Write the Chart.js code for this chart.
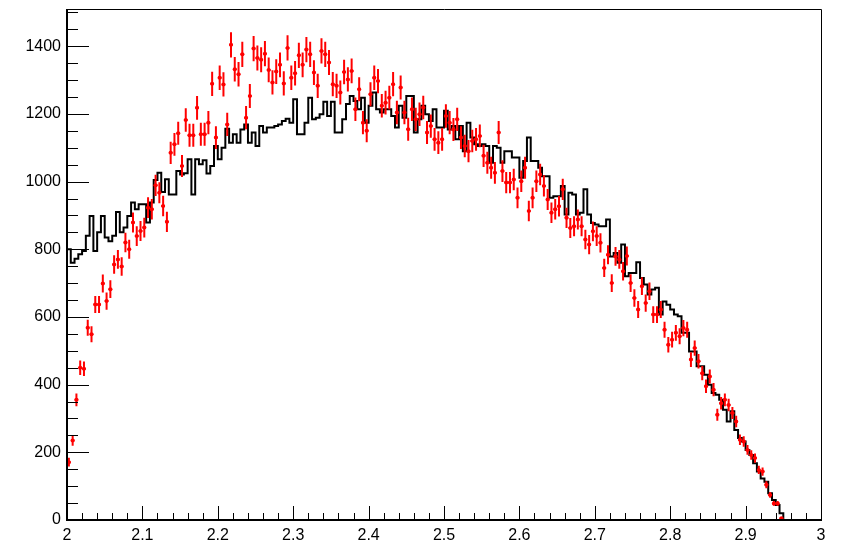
<!DOCTYPE html>
<html>
<head>
<meta charset="utf-8">
<script src="https://cdn.jsdelivr.net/npm/chart.js@4.4.1/dist/chart.umd.min.js"></script>
<style>
  html, body { margin: 0; padding: 0; background: #fff; }
  #wrap { width: 846px; height: 545px; }
</style>
</head>
<body>
<div id="wrap"><canvas id="chart"></canvas></div>
<script>
// histogram binning: 200 bins from 2 to 3
const xMin = 2;
const xMax = 3;
const binWidth = 0.005;
const yMax = 1510;

const xTicks = [2, 2.1, 2.2, 2.3, 2.4, 2.5, 2.6, 2.7, 2.8, 2.9, 3];
const xTickLabels = ["2", "2.1", "2.2", "2.3", "2.4", "2.5", "2.6", "2.7", "2.8", "2.9", "3"];
const yTicks = [0, 200, 400, 600, 800, 1000, 1200, 1400];
const yTickLabels = ["0", "200", "400", "600", "800", "1000", "1200", "1400"];
const xMinorStep = 0.02;
const yMinorStep = 50;

// red points (data, Poisson errors)
const dataCounts = [
  171, 235, 355, 450, 447, 568, 549, 637, 637, 699,
  647, 682, 755, 770, 749, 820, 800, 879, 839, 854,
  864, 923, 918, 989, 967, 928, 881, 1085, 1110, 1143,
  1046, 1182, 1137, 1137, 1218, 1140, 1140, 1174, 1289, 1130,
  1307, 1287, 1169, 1404, 1332, 1317, 1376, 1189, 1253, 1393,
  1365, 1360, 1378, 1330, 1293, 1325, 1345, 1290, 1395, 1307,
  1320, 1373, 1345, 1390, 1376, 1322, 1283, 1386, 1376, 1352,
  1288, 1283, 1263, 1324, 1302, 1327, 1214, 1273, 1174, 1150,
  1258, 1307, 1297, 1224, 1233, 1248, 1288, 1204, 1278, 1204,
  1155, 1214, 1184, 1199, 1219, 1145, 1164, 1125, 1115, 1125,
  1194, 1174, 1154, 1184, 1130, 1105, 1090, 1120, 1125, 1135,
  1076, 1056, 1041, 1026, 1145, 1031, 997, 997, 1006, 952,
  1001, 1041, 913, 952, 1001, 1021, 987, 947, 908, 918,
  927, 977, 893, 863, 868, 888, 868, 829, 814, 853,
  839, 819, 745, 784, 700, 779, 770, 735, 780, 700,
  656, 622, 691, 641, 676, 607, 607, 622, 562, 518,
  533, 553, 543, 567, 562, 474, 508, 469, 434, 395,
  424, 385, 311, 345, 355, 340, 316, 291, 237, 232,
  207, 192, 183, 148, 143, 104, 74, 49, 49, 5,
  null, null, null, null, null, null, null, null, null, null
];

// black histogram
const mcCounts = [
  800, 760, 772, 785, 795, 840, 898, 795, 850, 898,
  835, 824, 840, 910, 850, 864, 898, 938, 918, 933,
  933, 879, 938, 1005, 1026, 969, 1007, 962, 962, 1031,
  1021, 1025, 1066, 962, 1066, 1051, 1063, 1024, 1046, 1105,
  1066, 1100, 1156, 1115, 1140, 1115, 1154, 1169, 1115, 1145,
  1105, 1164, 1145, 1160, 1160, 1164, 1169, 1179, 1186, 1174,
  1243, 1140, 1140, 1174, 1248, 1184, 1189, 1199, 1236, 1194,
  1236, 1145, 1145, 1184, 1229, 1253, 1238, 1214, 1248, 1174,
  1224, 1263, 1214, 1204, 1214, 1214, 1194, 1160, 1224, 1189,
  1253, 1253, 1145, 1184, 1224, 1199, 1179, 1214, 1160, 1160,
  1209, 1154, 1164, 1125, 1164, 1090, 1174, 1130, 1110, 1105,
  1110, 1105, 1056, 1105, 1100, 1056, 1090, 1090, 1071, 1071,
  1011, 1061, 1130, 1061, 1061, 1041, 1016, 1016, 952, 957,
  957, 987, 903, 967, 962, 903, 908, 977, 903, 878,
  873, 868, 868, 888, 779, 789, 760, 814, 720, 730,
  730, 762, 715, 696, 666, 681, 686, 607, 646, 636,
  622, 607, 602, 553, 553, 498, 498, 454, 454, 429,
  400, 375, 370, 355, 326, 291, 321, 266, 242, 232,
  207, 192, 168, 143, 123, 113, 79, 59, 44, 20,
  0, 0, 0, 0, 0, 0, 0, 0, 0, 0
];

const lowEdges = mcCounts.map((_, i) => xMin + i * binWidth);
const centers = lowEdges.map((e) => e + binWidth / 2);

const mcPoints = mcCounts.map((v, i) => ({ x: lowEdges[i], y: v }));
mcPoints.push({ x: xMax, y: 0 });

const dataPoints = dataCounts
  .map((v, i) => (v === null ? null : { x: centers[i], y: v }))
  .filter(Boolean);

const errorBars = {
  id: "errorBars",
  afterDatasetsDraw(chart) {
    const { ctx, chartArea, scales } = chart;
    const x = scales.x;
    const y = scales.y;
    ctx.save();
    ctx.beginPath();
    ctx.rect(chartArea.left, chartArea.top, chartArea.width, chartArea.height);
    ctx.clip();
    ctx.strokeStyle = "#ff0000";
    ctx.lineWidth = 2;
    ctx.beginPath();
    dataCounts.forEach((v, i) => {
      if (v === null) return;
      const err = Math.sqrt(v);
      const px = x.getPixelForValue(centers[i]);
      const py = y.getPixelForValue(v);
      ctx.moveTo(px, y.getPixelForValue(v - err));
      ctx.lineTo(px, y.getPixelForValue(v + err));
      ctx.moveTo(x.getPixelForValue(lowEdges[i]), py);
      ctx.lineTo(x.getPixelForValue(lowEdges[i] + binWidth), py);
    });
    ctx.stroke();
    ctx.restore();
  },
};

// ROOT style frame: ticks inside, left/bottom axis lines
const rootFrame = {
  id: "rootFrame",
  afterDraw(chart) {
    const { ctx, chartArea: a, scales } = chart;
    const x = scales.x;
    const y = scales.y;
    ctx.save();
    ctx.strokeStyle = "#000";
    ctx.lineWidth = 1;
    ctx.beginPath();
    ctx.moveTo(a.left, a.top + 0.5);
    ctx.lineTo(a.right + 0.5, a.top + 0.5);
    ctx.lineTo(a.right + 0.5, a.bottom);
    ctx.stroke();

    ctx.beginPath();
    for (let k = 0; xMin + k * xMinorStep <= xMax + 1e-9; k++) {
      const v = xMin + k * xMinorStep;
      const major = k % 5 === 0;
      const px = Math.round(x.getPixelForValue(v)) + 0.5;
      ctx.moveTo(px, a.bottom);
      ctx.lineTo(px, a.bottom - (major ? 14 : 7));
    }
    for (let k = 0; k * yMinorStep <= yMax; k++) {
      const v = k * yMinorStep;
      const major = k % 4 === 0;
      const py = Math.round(y.getPixelForValue(v)) + 0.5;
      ctx.moveTo(a.left, py);
      ctx.lineTo(a.left + (major ? 22 : 11), py);
    }
    ctx.stroke();

    ctx.lineWidth = 2;
    ctx.beginPath();
    ctx.moveTo(a.left, a.top);
    ctx.lineTo(a.left, a.bottom);
    ctx.lineTo(a.right + 1, a.bottom);
    ctx.stroke();
    ctx.restore();
  },
};

const tickFont = { family: "'Liberation Sans', Arial, sans-serif", size: 16 };

new Chart(document.getElementById("chart"), {
  type: "scatter",
  data: {
    datasets: [
      {
        label: "data",
        data: dataPoints,
        pointRadius: 2,
        pointBackgroundColor: "#ff0000",
        pointBorderWidth: 0,
        showLine: false,
      },
      {
        type: "line",
        label: "hist",
        data: mcPoints,
        borderColor: "#000",
        borderWidth: 2,
        pointRadius: 0,
        stepped: true,
        fill: false,
        tension: 0,
      },
    ],
  },
  options: {
    responsive: true,
    maintainAspectRatio: false,
    animation: false,
    layout: { padding: { left: 0, right: 25, top: 9, bottom: 0 } },
    plugins: {
      legend: { display: false },
      tooltip: { enabled: false },
    },
    scales: {
      x: {
        type: "linear",
        min: xMin,
        max: xMax,
        grid: { display: false, drawTicks: false },
        border: { display: false },
        afterBuildTicks: (s) => { s.ticks = xTicks.map((v) => ({ value: v })); },
        afterFit: (s) => {
          s.height = 25;
          s.paddingLeft = 0;
          s.paddingRight = 0;
        },
        ticks: {
          autoSkip: false,
          maxRotation: 0,
          padding: 6,
          color: "#000",
          font: tickFont,
          callback: (v, i) => xTickLabels[i],
        },
      },
      y: {
        type: "linear",
        min: 0,
        max: yMax,
        grid: { display: false, drawTicks: false },
        border: { display: false },
        afterBuildTicks: (s) => { s.ticks = yTicks.map((v) => ({ value: v })); },
        afterFit: (s) => {
          s.width = 67;
          s.paddingTop = 0;
          s.paddingBottom = 0;
        },
        ticks: {
          autoSkip: false,
          padding: 6,
          color: "#000",
          font: tickFont,
          callback: (v, i) => yTickLabels[i],
        },
      },
    },
  },
  plugins: [errorBars, rootFrame],
});
</script>
</body>
</html>
